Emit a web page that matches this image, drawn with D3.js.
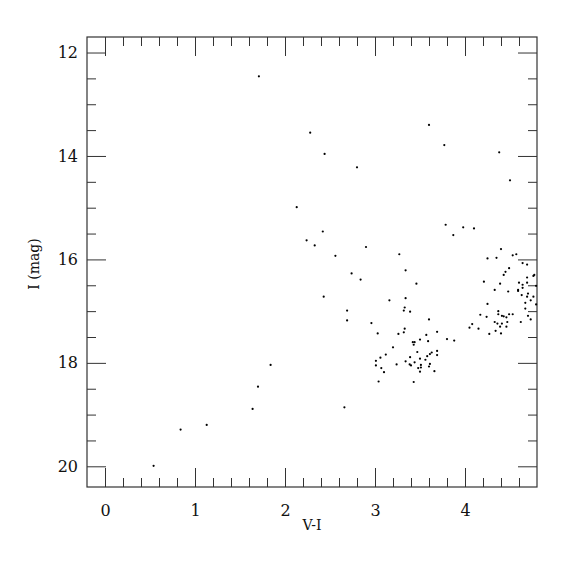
<!DOCTYPE html>
<html>
<head>
<meta charset="utf-8">
<script src="https://cdn.jsdelivr.net/npm/d3@7"></script>
<style>
  body { margin: 0; background: #fff; }
  text { font-family: "DejaVu Serif", serif; fill: #111; }
</style>
</head>
<body>
<svg width="575" height="575"></svg>
<script>
// colour V-I and magnitude I of each star
var colorVI = [
  0.54, 0.84, 1.13, 1.64, 1.70, 1.84, 1.71, 2.13, 2.28, 2.44,
  2.80, 3.60, 3.77, 4.38, 4.50, 2.42, 2.24, 2.33, 2.90, 2.56,
  2.74, 2.84, 2.43, 3.16, 2.66, 3.785, 3.87, 3.98, 4.10, 3.27,
  3.34, 3.46, 2.69, 2.69, 2.96, 3.03, 3.33, 3.32, 3.34, 3.39,
  3.60, 3.33, 3.32, 3.26, 3.57, 3.69, 3.59, 3.42, 3.44, 3.43,
  3.50, 3.20, 3.80, 3.88, 3.47, 3.69, 3.69, 3.63, 3.61, 3.58,
  3.56, 3.50, 3.39, 3.34, 3.44, 3.385, 3.40, 3.12, 3.06, 3.01,
  3.01, 3.07, 3.10, 3.24, 3.04, 3.43, 3.51, 3.51, 3.50, 3.61,
  3.60, 3.66, 3.48,
  4.25, 4.17, 4.08, 4.05, 4.15, 4.24, 4.27, 4.37, 4.37, 4.41,
  4.43, 4.46, 4.49, 4.53, 4.33, 4.36, 4.41, 4.47, 4.39, 4.46,
  4.34, 4.40, 4.62, 4.67, 4.67, 4.73, 4.70, 4.73, 4.79,
  4.40, 4.25, 4.35, 4.53, 4.57, 4.64, 4.69, 4.49, 4.45, 4.43,
  4.76, 4.77, 4.69, 4.21, 4.39, 4.69, 4.60, 4.64, 4.79, 4.33,
  4.48, 4.59, 4.59, 4.64, 4.63, 4.69, 4.70, 4.76
];
var magI = [
  19.99, 19.29, 19.20, 18.89, 18.46, 18.04, 12.46, 14.99, 13.55, 13.96,
  14.22, 13.40, 13.79, 13.93, 14.47, 15.46, 15.63, 15.73, 15.76, 15.93,
  16.27, 16.39, 16.72, 16.79, 18.86, 15.33, 15.53, 15.38, 15.40, 15.90,
  16.21, 16.47, 16.99, 17.18, 17.23, 17.43, 16.93, 16.99, 16.75, 17.01,
  17.16, 17.34, 17.41, 17.44, 17.46, 17.40, 17.58, 17.60, 17.60, 17.65,
  17.55, 17.70, 17.54, 17.57, 17.79, 17.77, 17.85, 17.80, 17.83, 17.87,
  17.94, 17.92, 17.89, 17.97, 17.99, 18.03, 18.05, 17.84, 17.90, 17.96,
  18.05, 18.10, 18.18, 18.03, 18.36, 18.37, 18.04, 18.09, 18.17, 18.02,
  18.07, 18.16, 18.10,
  16.86, 17.07, 17.25, 17.32, 17.34, 17.11, 17.44, 17.00, 17.06, 17.09,
  17.10, 17.12, 17.06, 17.06, 17.21, 17.24, 17.24, 17.21, 17.30, 17.30,
  17.38, 17.43, 17.21, 16.84, 16.95, 16.79, 17.09, 17.16, 16.87,
  15.80, 15.98, 15.97, 15.92, 15.90, 16.07, 16.10, 16.17, 16.24, 16.30,
  16.32, 16.30, 16.35, 16.43, 16.47, 16.45, 16.45, 16.49, 16.51, 16.59,
  16.62, 16.59, 16.61, 16.55, 16.69, 16.72, 16.66, 16.72
];

// tick positions
var xMajor = [0, 1, 2, 3, 4];
var xMinor = [0.2, 0.4, 0.6, 0.8, 1.2, 1.4, 1.6, 1.8, 2.2, 2.4, 2.6, 2.8,
              3.2, 3.4, 3.6, 3.8, 4.2, 4.4, 4.6];
var yMajor = [12, 14, 16, 18, 20];
var yMinor = [12.5, 13, 13.5, 14.5, 15, 15.5, 16.5, 17, 17.5, 18.5, 19, 19.5];

var stars = colorVI.map(function (v, i) { return [v, magI[i]]; });

var svg = d3.select("svg"),
    marginLeft = 87, marginTop = 37,
    width = 450, height = 450;

var xScale = d3.scaleLinear().domain([-0.2, 4.8]).range([0, width]),
    yScale = d3.scaleLinear().domain([11.7, 20.4]).range([0, height]);

var g = svg.append("g")
    .attr("transform", "translate(" + marginLeft + "," + marginTop + ")");

function styleAxis(sel) {
  sel.select(".domain").remove();
  sel.selectAll("line").attr("stroke", "#333").attr("stroke-width", 1);
}

// bottom ticks (inward) + labels
g.append("g")
  .attr("transform", "translate(0," + height + ")")
  .call(d3.axisBottom(xScale).tickValues(xMajor).tickSize(-19).tickPadding(27)
        .tickFormat(d3.format("d")))
  .call(styleAxis)
  .selectAll("text").style("font-size", "16px").attr("fill", "#111").attr("dy", "0.1em");
g.append("g")
  .attr("transform", "translate(0," + height + ")")
  .call(d3.axisBottom(xScale).tickValues(xMinor).tickSize(-9).tickFormat(""))
  .call(styleAxis);

// top ticks
g.append("g")
  .call(d3.axisTop(xScale).tickValues(xMajor).tickSize(-19).tickFormat(""))
  .call(styleAxis);
g.append("g")
  .call(d3.axisTop(xScale).tickValues(xMinor).tickSize(-9).tickFormat(""))
  .call(styleAxis);

// left ticks + labels
g.append("g")
  .call(d3.axisLeft(yScale).tickValues(yMajor).tickSize(-19).tickPadding(9)
        .tickFormat(d3.format("d")))
  .call(styleAxis)
  .selectAll("text").style("font-size", "16px").attr("fill", "#111")
  .attr("x", -9);
g.append("g")
  .call(d3.axisLeft(yScale).tickValues(yMinor).tickSize(-9).tickFormat(""))
  .call(styleAxis);

// right ticks
g.append("g")
  .attr("transform", "translate(" + width + ",0)")
  .call(d3.axisRight(yScale).tickValues(yMajor).tickSize(-19).tickFormat(""))
  .call(styleAxis);
g.append("g")
  .attr("transform", "translate(" + width + ",0)")
  .call(d3.axisRight(yScale).tickValues(yMinor).tickSize(-9).tickFormat(""))
  .call(styleAxis);

// frame
g.append("rect")
  .attr("x", 0).attr("y", 0)
  .attr("width", width).attr("height", height)
  .attr("fill", "none").attr("stroke", "#333").attr("stroke-width", 1.2);

// axis titles
svg.append("text")
  .attr("x", marginLeft + width / 2)
  .attr("y", 530)
  .attr("text-anchor", "middle")
  .style("font-size", "14px")
  .text("V-I");

svg.append("text")
  .attr("text-anchor", "middle")
  .attr("transform", "translate(39," + (marginTop + height / 2 + 2) + ")rotate(-90)")
  .style("font-size", "14px")
  .text("I (mag)");

// the stars
g.append("g")
  .selectAll("circle")
  .data(stars)
  .enter()
  .append("circle")
  .attr("cx", function (d) { return xScale(d[0]); })
  .attr("cy", function (d) { return yScale(d[1]); })
  .attr("r", 1.1)
  .style("fill", "#000");
</script>
</body>
</html>
